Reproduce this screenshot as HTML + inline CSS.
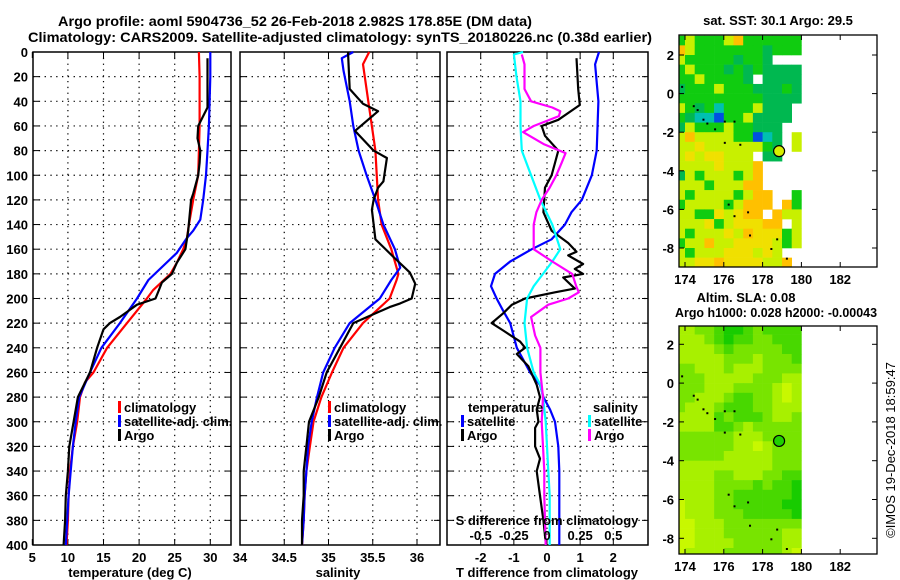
<!DOCTYPE html>
<html><head><meta charset="utf-8">
<style>
html,body{margin:0;padding:0;background:#fff;}
svg{display:block;font-family:"Liberation Sans",Arial,sans-serif;font-weight:bold;}
</style></head>
<body>
<svg id="fig" width="900" height="580" viewBox="0 0 900 580" xmlns="http://www.w3.org/2000/svg">
<rect x="0" y="0" width="900" height="580" fill="#fff"/>
<text x="58" y="26" font-size="14" textLength="474" lengthAdjust="spacingAndGlyphs">Argo profile: aoml 5904736_52 26-Feb-2018 2.982S 178.85E (DM data)</text>
<text x="28" y="42" font-size="14" textLength="624" lengthAdjust="spacingAndGlyphs">Climatology: CARS2009. Satellite-adjusted climatology: synTS_20180226.nc (0.38d earlier)</text>
<text x="778" y="25" font-size="13" text-anchor="middle">sat. SST: 30.1 Argo: 29.5</text>
<text x="746" y="302" font-size="13" text-anchor="middle">Altim. SLA: 0.08</text>
<text x="675" y="317" font-size="13" textLength="202" lengthAdjust="spacingAndGlyphs">Argo h1000: 0.028 h2000: -0.00043</text>
<text transform="translate(895,450) rotate(-90)" font-size="13" font-weight="normal" text-anchor="middle">©IMOS 19-Dec-2018 18:59:47</text>
<g id="layer"></g>
</svg>
<script>
// ---------- Panel 1: temperature ----------
const tClimDepth = [0,20,40,60,80,100,120,140,152,160,171,180,193,200,220,240,260,268,280,300,320,340,360,380,400];
const tClimVal   = [28.4,28.5,28.5,28.5,28.4,28.3,27.6,27.0,26.7,26.2,25.3,24.4,22.0,21.1,18.3,15.5,13.6,12.4,11.7,11.3,10.7,10.3,10.1,10.0,9.8];
const tSatDepth  = [0,20,40,60,80,100,120,136,145,151,163,185,200,220,240,260,280,300,320,340,360,380,400];
const tSatVal    = [30.0,30.0,29.9,29.8,29.6,29.4,29.0,28.6,27.6,26.7,25.3,21.3,19.7,17.3,14.7,13.1,11.6,11.1,10.7,10.4,10.1,9.9,9.7];
const tArgoDepth = [5,20,45,60,70,80,90,100,115,120,145,160,171,180,187,193,200,205,215,220,225,240,260,280,300,320,340,360,380,400];
const tArgoVal   = [29.6,29.6,29.6,28.3,28.2,28.6,28.5,28.3,27.6,27.3,26.9,26.5,25.3,24.6,23.2,22.8,22.3,19.7,17.3,15.9,15.0,14.1,13.1,11.4,10.8,10.2,10.0,9.7,9.6,9.4];
const tTicks = [5,10,15,20,25,30];
// ---------- Panel 2: salinity ----------
const sClimDepth = [0,10,40,80,120,140,160,180,185,200,210,220,240,260,280,300,320,340,360,380,400];
const sClimVal   = [35.46,35.39,35.45,35.53,35.56,35.60,35.71,35.79,35.77,35.69,35.54,35.39,35.17,35.04,34.92,34.83,34.79,34.75,34.73,34.72,34.70];
const sSatDepth  = [0,5,15,40,60,80,100,120,140,160,175,185,200,220,240,260,280,300,320,340,360,380,400];
const sSatVal    = [35.28,35.15,35.17,35.24,35.28,35.34,35.43,35.53,35.62,35.75,35.81,35.71,35.58,35.24,35.07,34.94,34.87,34.81,34.77,34.75,34.73,34.72,34.70];
const sArgoDepth = [0,30,42,48,64,80,86,105,110,120,128,152,166,179,188,200,204,207,220,240,260,280,300,320,340,360,380,400];
const sArgoVal   = [35.22,35.24,35.39,35.56,35.30,35.51,35.66,35.62,35.56,35.51,35.49,35.53,35.73,35.92,35.98,35.94,35.81,35.69,35.28,35.13,34.98,34.89,34.78,34.75,34.72,34.72,34.70,34.70];
const sTicks = [34,34.5,35,35.5,36];
// ---------- Panel 3: differences ----------
const dTSatDepth = [0,10,40,80,100,110,120,130,140,152,160,170,180,190,200,210,220,230,240,260,270,280,290,300,320,340,400];
const dTSatVal   = [1.57,1.45,1.55,1.50,1.35,1.20,1.05,0.74,0.54,0.14,-0.46,-1.11,-1.57,-1.69,-1.52,-1.32,-1.11,-1.01,-0.91,-0.51,-0.21,-0.11,0.09,0.24,0.34,0.37,0.37];
const dTArgoDepth = [5,30,43,55,60,68,80,90,100,110,130,145,155,162,165,172,176,180,183,192,195,200,205,212,220,226,235,240,245,255,270,280,290,300,305,320,330,340,360,380,400];
const dTArgoVal   = [0.89,0.94,0.99,0.34,-0.16,-0.06,0.34,0.24,0.14,-0.06,-0.11,0.14,0.64,0.89,0.64,1.09,0.84,1.09,0.49,0.84,0.24,-0.66,-1.06,-1.32,-1.67,-1.32,-0.81,-0.66,-0.91,-0.56,-0.31,-0.21,-0.31,-0.26,-0.36,-0.36,-0.21,-0.31,-0.21,-0.11,-0.03];
const dSSatDepth = [0,2,20,40,60,80,100,120,140,150,160,170,180,190,200,220,240,260,270,280,300,320,340,360,400];
const dSSatVal   = [-0.18,-0.25,-0.23,-0.20,-0.20,-0.19,-0.12,-0.05,0.04,0.07,0.10,0.04,-0.03,-0.10,-0.15,-0.17,-0.15,-0.10,-0.05,-0.03,-0.01,0.00,0.01,0.02,0.02];
const dSArgoDepth = [2,10,30,40,45,48,52,60,65,75,82,90,100,110,120,130,140,152,160,170,180,190,195,200,205,215,230,240,260,270,280,300,320,340,360,400];
const dSArgoVal   = [-0.19,-0.17,-0.17,-0.12,0.04,0.10,0.09,-0.10,-0.18,-0.02,0.14,0.11,0.07,0.02,-0.04,-0.08,-0.10,-0.10,-0.10,0.04,0.19,0.22,0.24,0.16,0.01,-0.12,-0.09,-0.05,-0.05,-0.04,-0.03,-0.04,-0.03,-0.02,-0.02,-0.01];
const dTTicks = [-2,-1,0,1,2];
const dSTicks = [-0.5,-0.25,0,0.25,0.5];
const dSTickLabels = ["-0.5","-0.25","0","0.25","0.5"];
const depthTicks = [0,20,40,60,80,100,120,140,160,180,200,220,240,260,280,300,320,340,360,380,400];
// ---------- Maps ----------
const sstRows = [
"GyGGGyoGGGGGG","oyGGGGGGGgGGG","yGGGGGgGGg...","GyGGGgGgGgggg","GGyGGGGg.gggg","gGGGyGGGgggGg",
"GGGGGGGGGgggg","yGgGtGGGyggg.","GgttbGGygggg.","gyGGGyGGggg..","yoyyyyGGbtg.y","yyYyyyyyyGg.y",
"yYyYYyyy.gg..","yyyyYyyyo....","gyGyyyGyo....","yyyGyyyoo....","yGyyyyGyoo..G","GyyyyGyooo.oG",
"yyGGYyYoo.oyy","yyyYGyYYYoo.y","yGyyyYyoYYYGy","GyyoyyYYYYyGy","yGyyyYYYyYy..","yyYYoYYYYyyo."];
const slaRows = [
"2233455434444","2223454433444","2222343333344","2222233323334","3322232223333","3332222233322",
"3332223333212","3322234433212","3222344433222","2222434443223","2222443233333","3333332223333",
"3333332212333","3333322222333","2222222222333","2222332223344","2222333343445","2222334444445",
"1222334444455","1222333444445","1122233333333","1122233333322","1122223333322","1222233333321"];
const mapLonTicks = [174,176,178,180,182];
const mapLatTicks = [2,0,-2,-4,-6,-8];
const argoLon = 178.85, argoLat = -2.982;
const coastLon = [173.8,174.4,174.6,174.9,175.1,175.5,176.0,176.5,176.0,176.8,176.2,176.5,177.2,177.3,178.4,178.7,179.2];
const coastLat = [0.4,-0.6,-0.8,-1.3,-1.5,-1.8,-1.4,-1.4,-2.5,-2.6,-5.7,-6.3,-6.1,-7.3,-8.0,-7.5,-8.5];

const NS="http://www.w3.org/2000/svg";
const layer=document.getElementById('layer');
function el(tag,attrs,parent){const e=document.createElementNS(NS,tag);for(const k in attrs)e.setAttribute(k,attrs[k]);(parent||layer).appendChild(e);return e;}
function lin(d0,d1,r0,r1){return v=>r0+(v-d0)*(r1-r0)/(d1-d0);}
const yD=lin(0,400,52,545);
const TOP=52,BOT=545;

function panel(name,x0,x1,xs,ticks,tickLabels,showDepthLabels){
  const g=el('g',{});
  
  
  depthTicks.forEach(d=>{
    const y=yD(d);
    if(d>0&&d<400){const gl=el('line',{x1:x0,x2:x1,y1:y,y2:y,stroke:'#000','stroke-width':1.2,'stroke-dasharray':'1.3,4.5'},g);
      
      }
    el('line',{x1:x0,x2:x0+6,y1:y,y2:y,stroke:'#000','stroke-width':1},g);
    el('line',{x1:x1-6,x2:x1,y1:y,y2:y,stroke:'#000','stroke-width':1},g);
    if(showDepthLabels){const t=el('text',{x:28,y:y+5,'font-size':13,'text-anchor':'end'},g);t.textContent=d;
      
      }
  });
  ticks.forEach((v,i)=>{
    const x=xs(v);
    if(x>x0+2&&x<x1-2){const gl=el('line',{x1:x,x2:x,y1:TOP,y2:BOT,stroke:'#000','stroke-width':1.2,'stroke-dasharray':'1.3,4.5'},g);
      
      }
    el('line',{x1:x,x2:x,y1:BOT-6,y2:BOT,stroke:'#000','stroke-width':1},g);
    el('line',{x1:x,x2:x,y1:TOP,y2:TOP+6,stroke:'#000','stroke-width':1},g);
    if(tickLabels){const t=el('text',{x:x,y:562,'font-size':13,'text-anchor':'middle'},g);t.textContent=tickLabels[i];
      
      }
  });
  const b=el('rect',{x:x0,y:TOP,width:x1-x0,height:BOT-TOP,fill:'none',stroke:'#000','stroke-width':1.5},g);
  
  
  return g;
}
function series(name,depths,vals,xs,color,x0,x1,w){
  const pts=depths.map((d,i)=>Math.max(x0,Math.min(x1,xs(vals[i]))).toFixed(1)+','+yD(d).toFixed(1)).join(' ');
  const p=el('polyline',{points:pts,fill:'none',stroke:color,'stroke-width':w||2.2,'stroke-linejoin':'round'});
  
  
}
function label(name,txt,x,y,size,anchor){const t=el('text',{x:x,y:y,'font-size':size||13,'text-anchor':anchor||'start'});t.textContent=txt;
  
  return t;}
function legendItem(name,txt,x,y,color){
  const r=el('rect',{x:x,y:y-11,width:3,height:12,fill:color});
  
  
  label(name,txt,x+6,y,13);
}

// Panel 1
const xT=lin(5,30,32.3,210.3);
panel('temperature-panel',33,231,xT,tTicks,tTicks.map(String),true);
series('temperature-climatology-line',tClimDepth,tClimVal,xT,'#f00',33,231);
series('temperature-satellite-line',tSatDepth,tSatVal,xT,'#00f',33,231);
series('temperature-argo-line',tArgoDepth,tArgoVal,xT,'#000',33,231);
label('x-axis-title-temperature','temperature (deg C)',130,577,13,'middle');
legendItem('legend-climatology','climatology',118,412,'#f00');
legendItem('legend-satellite-adj','satellite-adj. clim.',118,426,'#00f');
legendItem('legend-argo','Argo',118,440,'#000');

// Panel 2
const xS=lin(34,36,240,417);
panel('salinity-panel',240,440,xS,sTicks,sTicks.map(String),false);
series('salinity-climatology-line',sClimDepth,sClimVal,xS,'#f00',240,440);
series('salinity-satellite-line',sSatDepth,sSatVal,xS,'#00f',240,440);
series('salinity-argo-line',sArgoDepth,sArgoVal,xS,'#000',240,440);
label('x-axis-title-salinity','salinity',338,577,13,'middle');
legendItem('legend-s-climatology','climatology',328,412,'#f00');
legendItem('legend-s-satellite-adj','satellite-adj. clim.',328,426,'#00f');
legendItem('legend-s-argo','Argo',328,440,'#000');

// Panel 3
const xDT=lin(-2,2,480.7,613.3);
const xDS=lin(-0.5,0.5,480.7,613.3);
panel('difference-panel',447,648,xDT,dTTicks,dTTicks.map(String),false);
series('t-diff-satellite-line',dTSatDepth,dTSatVal,xDT,'#00f',447,648);
series('t-diff-argo-line',dTArgoDepth,dTArgoVal,xDT,'#000',447,648);
series('s-diff-satellite-line',dSSatDepth,dSSatVal,xDS,'#0ff',447,648);
series('s-diff-argo-line',dSArgoDepth,dSArgoVal,xDS,'#f0f',447,648);
label('x-axis-title-t-difference','T difference from climatology',547,577,13,'middle');
label('s-axis-title','S difference from climatology',547,525,13,'middle');
dSTicks.forEach((v,i)=>{label('s-tick-label',dSTickLabels[i],xDS(v),540,13,'middle');});
label('legend-temperature-heading','temperature',468,412,13);
legendItem('legend-t-satellite','satellite',461,426,'#00f');
legendItem('legend-t-argo','Argo',461,440,'#000');
label('legend-salinity-heading','salinity',593,412,13);
legendItem('legend-s-satellite','satellite',588,426,'#0ff');
legendItem('legend-s-argo-diff','Argo',588,440,'#f0f');

// Maps
const sstColors={G:'#10cc10',g:'#00b850',y:'#c8f000',Y:'#f0e000',o:'#ffc000',t:'#00c0b0',b:'#0050e0'};
const slaColors={'1':'#c8f800','2':'#a8f000','3':'#78e400','4':'#48d800','5':'#18cc00'};
function map(name,rows,colors,bx0,bx1,by0,by1,yLat2,latScale,markerFill){
  const g=el('g',{});
  
  
  const xL=lon=>685+(lon-174)*19.4;
  const yL=lat=>yLat2+(2-lat)*latScale;
  const clipId=name+'-clip';
  const cp=el('clipPath',{id:clipId},g);el('rect',{x:bx0,y:by0,width:bx1-bx0,height:by1-by0},cp);
  const cg=el('g',{'clip-path':'url(#'+clipId+')'},g);
  rows.forEach((row,r)=>{
    for(let c=0;c<row.length;c++){
      const col=colors[row[c]];if(!col)continue;
      const lon=173.5+0.5*c, lat=3-0.5*r;
      const cell=el('rect',{x:xL(lon),y:yL(lat),width:19.4*0.5+0.3,height:latScale*0.5+0.3,fill:col},cg);
      
      
    }
  });
  coastLon.forEach((lo,i)=>{el('rect',{x:xL(lo),y:yL(coastLat[i]),width:2,height:2,fill:'#000'},cg);});
  const circ=el('circle',{cx:xL(argoLon),cy:yL(argoLat),r:5.5,fill:markerFill,stroke:'#000','stroke-width':1.2},g);
  
  
  mapLonTicks.forEach(lo=>{const x=xL(lo);
    el('line',{x1:x,x2:x,y1:by1-5,y2:by1,stroke:'#000'},g);el('line',{x1:x,x2:x,y1:by0,y2:by0+5,stroke:'#000'},g);
    const t=el('text',{x:x,y:by1+17,'font-size':13,'text-anchor':'middle'},g);t.textContent=lo;
    
    });
  mapLatTicks.forEach(la=>{const y=yL(la);
    el('line',{x1:bx0,x2:bx0+5,y1:y,y2:y,stroke:'#000'},g);el('line',{x1:bx1-5,x2:bx1,y1:y,y2:y,stroke:'#000'},g);
    const t=el('text',{x:674,y:y+5,'font-size':13,'text-anchor':'end'},g);t.textContent=la;
    
    });
  el('rect',{x:bx0,y:by0,width:bx1-bx0,height:by1-by0,fill:'none',stroke:'#000','stroke-width':1.3},g);
}
map('sst-map',sstRows,sstColors,679,877,35,267,55,19.3,'#d8f000');
map('sla-map',slaRows,slaColors,679,877,326,554,344.3,19.4,'#20d000');
</script>
</body></html>
